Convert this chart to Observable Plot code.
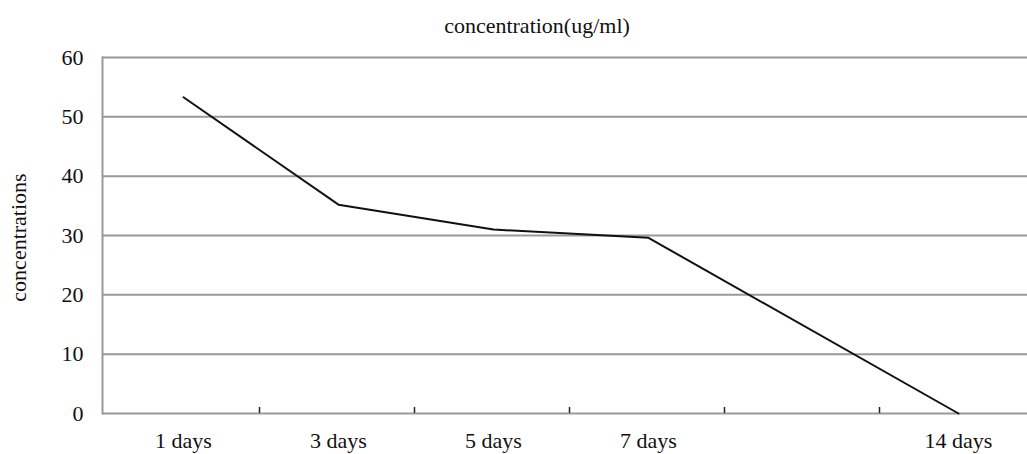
<!DOCTYPE html>
<html>
<head>
<meta charset="utf-8">
<script src="https://cdn.jsdelivr.net/npm/d3@7"></script>
<script src="https://cdn.jsdelivr.net/npm/@observablehq/plot@0.6"></script>
<style>
  html, body { margin: 0; padding: 0; background: #fff; }
</style>
</head>
<body>
<div id="chart"></div>
<script>
// Categories on the x axis (the fifth category has no label in the original)
const categories = ["1 days", "3 days", "5 days", "7 days", "", "14 days"];
// Series: concentration readings (ug/ml)
const days = ["1 days", "3 days", "5 days", "7 days", "14 days"];
const values = [53.3, 35.2, 31.0, 29.6, 0];
// Y tick values
const yTicks = [0, 10, 20, 30, 40, 50, 60];

const data = days.map((d, i) => ({day: d, value: values[i]}));

const W = 1027, H = 454;
const mLeft = 102, mTop = 57, mBottom = 41, mRight = 0;
const xRange = [96, 1044];
const halfBand = (xRange[1] - xRange[0]) / categories.length / 2;
const FS = 22;

const chart = Plot.plot({
  width: W,
  height: H,
  marginLeft: mLeft,
  marginTop: mTop,
  marginBottom: mBottom,
  marginRight: mRight,
  style: {fontFamily: "'Liberation Serif', 'DejaVu Serif', serif", fontSize: FS + "px", color: "#111", background: "#fff"},
  x: {type: "band", domain: categories, range: xRange, label: null},
  y: {domain: [0, 60], ticks: yTicks, label: null},
  marks: [
    Plot.ruleY(yTicks, {stroke: "#999", strokeWidth: 2}),
    Plot.frame({anchor: "left", stroke: "#999", strokeWidth: 2}),
    Plot.axisY({ticks: yTicks, tickSize: 0, tickPadding: 19, fontSize: FS, fill: "#111", label: null}),
    Plot.axisX({ticks: categories.slice(1), tickSize: -6, text: null, dx: -halfBand, stroke: "#222", strokeWidth: 1.5, label: null}),
    Plot.axisX({tickSize: 0, tickPadding: 19, fontSize: FS, fill: "#111", label: null}),
    Plot.line(data, {x: "day", y: "value", stroke: "#111", strokeWidth: 2}),
    Plot.text(["concentration(ug/ml)"], {frameAnchor: "top", lineAnchor: "middle", textAnchor: "middle", dy: -32, dx: -28, fontSize: FS, fill: "#111"}),
    Plot.text(["concentrations"], {frameAnchor: "left", lineAnchor: "middle", textAnchor: "middle", rotate: -90, dx: -84, dy: 2, fontSize: FS, fill: "#111"})
  ]
});
document.getElementById("chart").appendChild(chart);
</script>
</body>
</html>
